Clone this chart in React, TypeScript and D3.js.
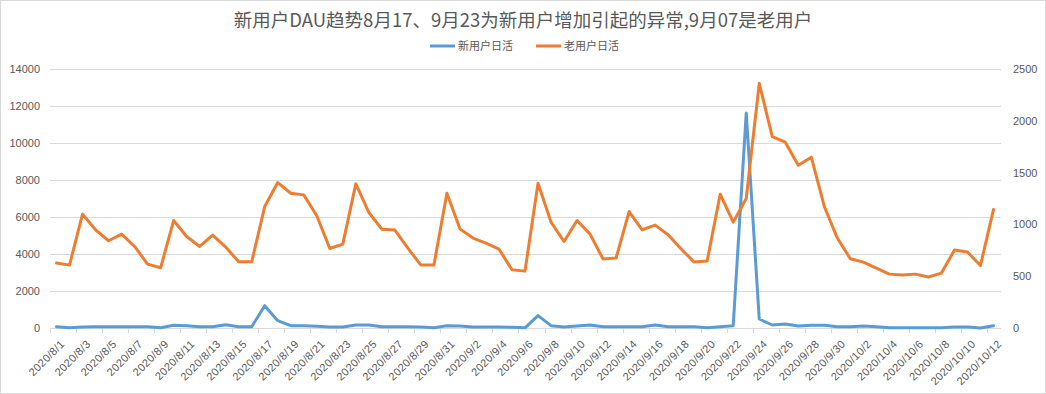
import React from 'react';
import * as d3 from 'd3';

// categories: one per day
const dates: string[] = [
  '2020/8/1', '2020/8/2', '2020/8/3', '2020/8/4', '2020/8/5', '2020/8/6', '2020/8/7', '2020/8/8',
  '2020/8/9', '2020/8/10', '2020/8/11', '2020/8/12', '2020/8/13', '2020/8/14', '2020/8/15', '2020/8/16',
  '2020/8/17', '2020/8/18', '2020/8/19', '2020/8/20', '2020/8/21', '2020/8/22', '2020/8/23', '2020/8/24',
  '2020/8/25', '2020/8/26', '2020/8/27', '2020/8/28', '2020/8/29', '2020/8/30', '2020/8/31', '2020/9/1',
  '2020/9/2', '2020/9/3', '2020/9/4', '2020/9/5', '2020/9/6', '2020/9/7', '2020/9/8', '2020/9/9',
  '2020/9/10', '2020/9/11', '2020/9/12', '2020/9/13', '2020/9/14', '2020/9/15', '2020/9/16', '2020/9/17',
  '2020/9/18', '2020/9/19', '2020/9/20', '2020/9/21', '2020/9/22', '2020/9/23', '2020/9/24', '2020/9/25',
  '2020/9/26', '2020/9/27', '2020/9/28', '2020/9/29', '2020/9/30', '2020/10/1', '2020/10/2', '2020/10/3',
  '2020/10/4', '2020/10/5', '2020/10/6', '2020/10/7', '2020/10/8', '2020/10/9', '2020/10/10', '2020/10/11',
  '2020/10/12',
];

// 新用户日活 (left axis)
const newUsers: number[] = [
  72, 20, 54, 72, 72, 72, 72, 72, 10, 144, 126, 72, 72, 180, 72, 72,
  1206, 396, 126, 126, 90, 54, 54, 162, 162, 72, 72, 72, 54, 10, 126, 108,
  54, 54, 54, 36, 10, 666, 126, 54, 108, 162, 72, 72, 72, 72, 162, 72,
  72, 72, 18, 72, 126, 11620, 486, 162, 216, 108, 144, 144, 72, 72, 108, 72,
  18, 18, 18, 18, 18, 54, 54, 0, 126,
];

// 老用户日活 (right axis)
const oldUsers: number[] = [
  627, 607, 1099, 948, 842, 906, 787, 617, 581, 1037, 883, 787, 897, 781, 639, 639,
  1172, 1404, 1301, 1285, 1083, 767, 810, 1391, 1115, 954, 945, 771, 607, 607, 1301, 957,
  868, 819, 762, 562, 549, 1398, 1022, 835, 1037, 906, 665, 675, 1124, 948, 993, 900,
  762, 636, 646, 1292, 1022, 1250, 2362, 1847, 1793, 1571, 1649, 1173, 868, 668, 636, 578,
  520, 511, 520, 492, 530, 752, 733, 604, 1143,
];

const leftTicks = [0, 2000, 4000, 6000, 8000, 10000, 12000, 14000];
const rightTicks = [0, 500, 1000, 1500, 2000, 2500];

const W = 1046;
const H = 394;
const plot = { left: 50, right: 1000, top: 69, bottom: 328 };
const BLUE = '#5B9BD5';
const ORANGE = '#ED7D31';
const TEXT = '#595959';
const GRID = '#D9D9D9';
const FONT = '"Noto Sans CJK SC", "Liberation Sans", sans-serif';

const App: React.FC = () => {
  const x = d3.scaleBand<string>().domain(dates).range([plot.left, plot.right]);
  const cx = (d: string) => (x(d) ?? 0) + x.bandwidth() / 2;
  const yLeft = d3.scaleLinear().domain([0, 14000]).range([plot.bottom, plot.top]);
  const yRight = d3.scaleLinear().domain([0, 2500]).range([plot.bottom, plot.top]);

  const lineNew = d3.line<number>()
    .x((_, i) => cx(dates[i]))
    .y(d => yLeft(d));
  const lineOld = d3.line<number>()
    .x((_, i) => cx(dates[i]))
    .y(d => yRight(d));

  const labelled = dates.filter((_, i) => i % 2 === 0);

  return (
    <svg width={W} height={H} style={{ position: 'absolute', left: 0, top: 0, background: '#fff' }}
      fontFamily={FONT}>
      <rect x={0.5} y={0.5} width={W - 1} height={H - 1} fill="#fff" stroke={GRID} />

      <text x={523} y={27} textAnchor="middle" fontSize={18.5} fill={TEXT}>
        新用户DAU趋势8月17、9月23为新用户增加引起的异常,9月07是老用户
      </text>

      {/* legend */}
      <g fontSize={11} fill={TEXT}>
        <line x1={430} x2={455} y1={46} y2={46} stroke={BLUE} strokeWidth={3} />
        <text x={458} y={50}>新用户日活</text>
        <line x1={536} x2={561} y1={46} y2={46} stroke={ORANGE} strokeWidth={3} />
        <text x={564} y={50}>老用户日活</text>
      </g>

      {/* gridlines */}
      {leftTicks.map(t => (
        <line key={t} x1={plot.left} x2={plot.right + 1} y1={Math.round(yLeft(t)) + 0.5}
          y2={Math.round(yLeft(t)) + 0.5} stroke={GRID} strokeWidth={1} />
      ))}

      {/* x axis ticks */}
      {labelled.map(d => (
        <line key={d} x1={Math.round(x(d) ?? 0) + 0.5} x2={Math.round(x(d) ?? 0) + 0.5}
          y1={plot.bottom} y2={plot.bottom + 5} stroke={GRID} />
      ))}

      {/* y axis labels */}
      <g fontSize={11} fill={TEXT} fontFamily='"Liberation Sans", sans-serif'>
        {leftTicks.map(t => (
          <text key={t} x={40} y={yLeft(t) + 4} textAnchor="end">{t}</text>
        ))}
        {rightTicks.map(t => (
          <text key={t} x={1013} y={yRight(t) + 4} textAnchor="start">{t}</text>
        ))}
      </g>

      {/* x labels */}
      <g fontSize={11} fill={TEXT} fontFamily='"Liberation Sans", sans-serif'>
        {labelled.map(d => (
          <text key={d} transform={`translate(${cx(d) + 6},${plot.bottom + 14}) rotate(-45)`}
            textAnchor="end" dy="0.35em" letterSpacing={0.3}>{d}</text>
        ))}
      </g>

      <path d={lineNew(newUsers) ?? ''} fill="none" stroke={BLUE} strokeWidth={3}
        strokeLinejoin="round" strokeLinecap="round" />
      <path d={lineOld(oldUsers) ?? ''} fill="none" stroke={ORANGE} strokeWidth={3}
        strokeLinejoin="round" strokeLinecap="round" />
    </svg>
  );
};

export default App;
